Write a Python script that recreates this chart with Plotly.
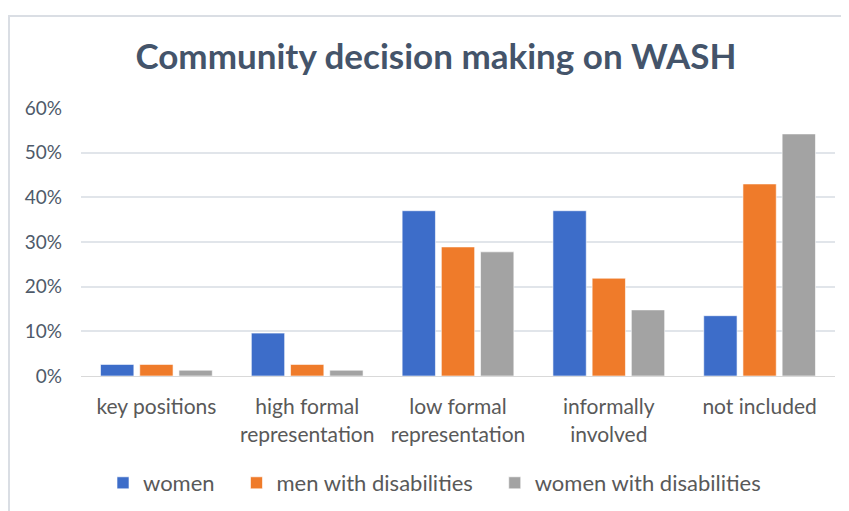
import plotly.graph_objects as go

categories = ["key positions", "high formal<br>representation", "low formal<br>representation",
              "informally<br>involved", "not included"]
women = [0.026, 0.096, 0.370, 0.370, 0.135]
men_disab = [0.026, 0.026, 0.289, 0.219, 0.430]
women_disab = [0.013, 0.013, 0.278, 0.148, 0.542]
y_ticks = [0, 0.1, 0.2, 0.3, 0.4, 0.5, 0.6]

COLORS = {"women": "#3D6DC9", "men": "#EF7B2A", "wdis": "#A3A3A3"}
FONT = "Lato"
TEXT = "#595959"

# page has an 8px body margin, so the figure is sized to end at the window edge
OFF = 8
W, H = 849 - OFF, 511 - OFF
L, R, T, B = 73, 14, 100, 135
pw, ph = W - L - R, H - T - B


def px_x(page_x):
    return (page_x - OFF - L) / pw


def px_y(page_y):
    return (H - B - (page_y - OFF)) / ph


fig = go.Figure()
NBSP = "\u00a0" * 3
for name, vals, key in [("women", women, "women"),
                        ("men with disabilities", men_disab, "men"),
                        ("women with disabilities", women_disab, "wdis")]:
    fig.add_trace(go.Bar(
        x=categories, y=vals, name=name + NBSP,
        marker=dict(color=COLORS[key], line=dict(color="rgba(255,255,255,0.6)", width=1))
    ))

# chart border
fig.add_shape(type="rect", xref="paper", yref="paper",
              x0=px_x(9), x1=px_x(870), y0=px_y(530), y1=px_y(16),
              line=dict(color="#DADEE4", width=2), layer="below")

fig.update_layout(
    width=W, height=H,
    margin=dict(l=L, r=R, t=T, b=B, autoexpand=False),
    paper_bgcolor="white", plot_bgcolor="white",
    title=dict(text="<b>Community decision making on WASH</b>", x=(436 - OFF) / W, xanchor="center",
               y=1 - (57 - OFF) / H, yanchor="middle", yref="container",
               font=dict(family=FONT, size=35, color="#44546A")),
    barmode="group", bargap=0.22, bargroupgap=0.15,
    font=dict(family=FONT, color=TEXT),
    xaxis=dict(tickfont=dict(size=21, color=TEXT), showline=True, linecolor="#D9D9D9",
               linewidth=1, ticks="", showgrid=False, automargin=False, ticklabelstandoff=12),
    yaxis=dict(range=[0, 0.6], tickvals=y_ticks, tickformat=".0%", automargin=False,
               tickfont=dict(size=19, color="#4E5A6A"), gridcolor="#E1E5EA", gridwidth=2,
               zeroline=False, ticks="", ticklabelstandoff=18),
    legend=dict(orientation="h", x=px_x(103), xanchor="left", y=px_y(483), yanchor="middle",
                font=dict(size=22, color=TEXT), itemwidth=30, traceorder="normal"),
    showlegend=True,
)

fig.write_html("out.html")
